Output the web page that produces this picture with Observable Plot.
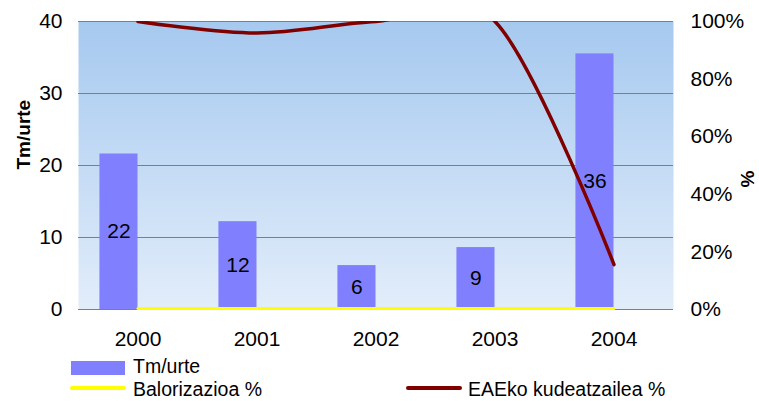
<!DOCTYPE html>
<html>
<head>
<meta charset="utf-8">
<script src="https://cdn.jsdelivr.net/npm/d3@7"></script>
<script src="https://cdn.jsdelivr.net/npm/@observablehq/plot@0.6"></script>
<style>
  html, body { margin: 0; padding: 0; background: #fff; }
  #wrap { position: relative; width: 759px; height: 401px; font-family: "Liberation Sans", Arial, sans-serif; }
  #wrap svg { display: block; }
  .lg { position: absolute; font-size: 19.5px; color: #000; line-height: 20px; height: 20px; white-space: nowrap; }
  .sw { position: absolute; }
</style>
</head>
<body>
<div id="wrap"></div>
<script>
// ---- data ----
const years = [2000, 2001, 2002, 2003, 2004];
const tmUrte = [21.6, 12.2, 6.1, 8.6, 35.5];           // Tm/urte (left axis)
const balorizazioa = [0, 0, 0, 0, 0];                  // Balorizazioa % (right axis)
const eaeKudeatzailea = [100, 96, 100, 100, 15.6];     // EAEko kudeatzailea % (right axis)
const leftTicks = [0, 10, 20, 30, 40];
const pctTicks = [0, 20, 40, 60, 80, 100];
const seriesNames = ["Tm/urte", "Balorizazioa %", "EAEko kudeatzailea %"];

const PCT = 40 / 100; // map percent onto left axis range
const bars = years.map((y, i) => ({year: y, value: tmUrte[i]}));
const balor = years.map((y, i) => ({year: y, pct: balorizazioa[i]}));
const eae = years.map((y, i) => ({year: y, pct: eaeKudeatzailea[i]}));

const font = "'Liberation Sans', Arial, sans-serif";
const barW = 0.32;

const chart = Plot.plot({
  width: 759,
  height: 354,
  marginLeft: 78,
  marginRight: 86,
  marginTop: 21,
  marginBottom: 45,
  style: {fontFamily: font, fontSize: "21px", background: "white", color: "#000"},
  x: {domain: [1999.5, 2004.5]},
  y: {domain: [0, 40]},
  marks: [
    Plot.frame({fill: "url(#bgGrad)", stroke: "none"}),
    Plot.ruleY(leftTicks, {stroke: "#7a7aa8", strokeWidth: 1.2}),
    Plot.rect(bars, {x1: d => d.year - barW, x2: d => d.year, y1: 0, y2: "value", fill: "#8080ff"}),
    Plot.text(bars, {x: d => d.year - barW / 2, y: d => d.value / 2, text: d => String(Math.round(d.value)), fontSize: 21, fill: "#000"}),
    Plot.line(balor, {x: "year", y: d => d.pct * PCT, stroke: "#ffff00", strokeWidth: 3, dy: -1}),
    Plot.line(eae, {x: "year", y: d => d.pct * PCT, stroke: "#800000", strokeWidth: 3.5, curve: "cardinal", tension: 0, clip: true}),
    Plot.axisY({ticks: leftTicks, tickSize: 0, tickPadding: 16, label: null, fontSize: 21}),
    Plot.axisY({anchor: "right", ticks: pctTicks.map(p => p * PCT), tickFormat: d => Math.round(d / PCT) + "%", tickSize: 0, tickPadding: 17, label: null, fontSize: 21}),
    Plot.axisX({ticks: years, tickFormat: d => String(d), tickSize: 0, tickPadding: 22, label: null, fontSize: 21}),
    Plot.text(["Tm/urte"], {frameAnchor: "left", dx: -55, dy: 4, rotate: -90, text: d => d, fontWeight: "bold", fontSize: 19}),
    Plot.text(["%"], {frameAnchor: "right", dx: 74, dy: 5, rotate: -90, text: d => d, fontWeight: "bold", fontSize: 19})
  ]
});

const defs = d3.select(chart).insert("defs", ":first-child");
const g = defs.append("linearGradient").attr("id", "bgGrad").attr("x1", 0).attr("y1", 0).attr("x2", 0).attr("y2", 1);
g.append("stop").attr("offset", "0%").attr("stop-color", "#a6c9ef");
g.append("stop").attr("offset", "100%").attr("stop-color", "#e2edfa");

const wrap = document.getElementById("wrap");
wrap.appendChild(chart);
chart.style.position = "absolute";
chart.style.left = "0px";
chart.style.top = "0px";

// ---- legend ----
const legendItems = [
  {name: seriesNames[0], kind: "bar", color: "#8080ff", sx: 71, sy: 361, tx: 133, ty: 356},
  {name: seriesNames[1], kind: "line", color: "#ffff00", sx: 70, sy: 386, tx: 133, ty: 379},
  {name: seriesNames[2], kind: "line", color: "#800000", sx: 406, sy: 386, tx: 468, ty: 379}
];
for (const it of legendItems) {
  const s = document.createElement("div");
  s.className = "sw";
  s.style.left = it.sx + "px";
  s.style.background = it.color;
  s.style.top = it.sy + "px";
  if (it.kind === "bar") { s.style.width = "54px"; s.style.height = "14px"; }
  else { s.style.width = "56px"; s.style.height = "4px"; s.style.borderRadius = "2px"; }
  wrap.appendChild(s);
  const t = document.createElement("div");
  t.className = "lg";
  t.style.left = it.tx + "px";
  t.style.top = it.ty + "px";
  t.textContent = it.name;
  wrap.appendChild(t);
}
</script>
</body>
</html>
